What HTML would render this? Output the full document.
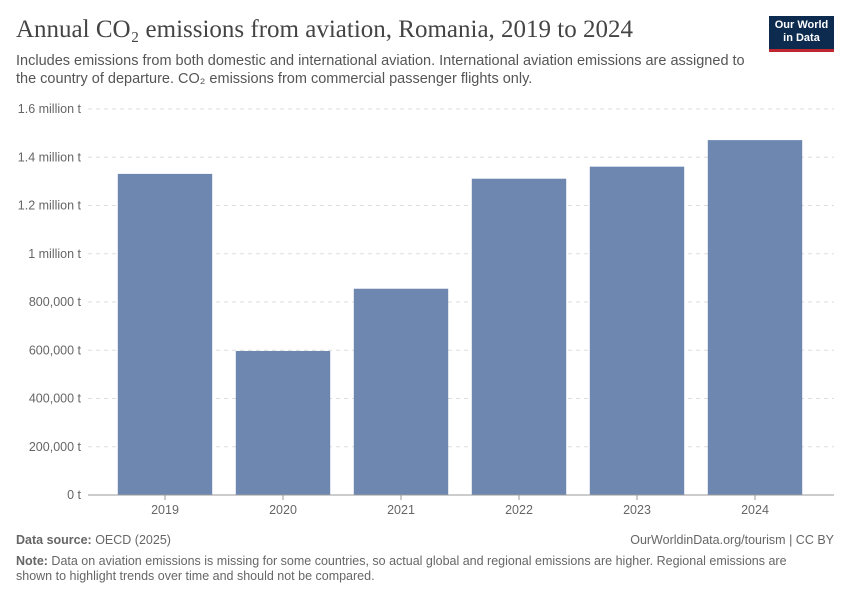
<!DOCTYPE html>
<html><head><meta charset="utf-8">
<style>
body{margin:0;background:#fff;font-family:"Liberation Sans",sans-serif;}
#wrap{position:relative;width:850px;height:600px;overflow:hidden;}
.title{position:absolute;left:16px;top:16px;font-family:"Liberation Serif",serif;font-size:25px;color:#444;}
.sub{position:absolute;left:16px;top:52px;width:740px;font-size:14.5px;line-height:18px;color:#555;}
.logo{position:absolute;left:769px;top:16px;width:65px;height:36px;background:#0c2b4f;color:#fff;font-size:11px;line-height:13px;text-align:center;padding-top:3px;box-sizing:border-box;border-bottom:3px solid #c0262f;font-weight:bold;}
.foot{position:absolute;font-size:12.5px;color:#666;}
</style></head><body>
<div id="wrap">
<div class="title">Annual CO₂ emissions from aviation, Romania, 2019 to 2024</div>
<div class="sub">Includes emissions from both domestic and international aviation. International aviation emissions are assigned to the country of departure. CO₂ emissions from commercial passenger flights only.</div>
<div class="logo">Our World<br>in Data</div>
<svg id="chart" width="850" height="600" style="position:absolute;left:0;top:0"></svg>
<div class="foot" style="left:16px;top:533px"><b>Data source:</b> OECD (2025)</div>
<div class="foot" style="right:16px;top:533px">OurWorldinData.org/tourism | CC BY</div>
<div class="foot" style="left:16px;top:554px;width:800px;line-height:15px"><b>Note:</b> Data on aviation emissions is missing for some countries, so actual global and regional emissions are higher. Regional emissions are shown to highlight trends over time and should not be compared.</div>
</div>
<script>
const categories=["2019","2020","2021","2022","2023","2024"];
const values=[1331000,597000,855000,1311000,1361000,1471000];
const tickValues=[0,200000,400000,600000,800000,1000000,1200000,1400000,1600000];
const tickLabels=["0 t","200,000 t","400,000 t","600,000 t","800,000 t","1 million t","1.2 million t","1.4 million t","1.6 million t"];
const NS="http://www.w3.org/2000/svg";
const svg=document.getElementById('chart');
const x0=88,x1=834,bx0=106,bx1=814,y0=495,yTop=109,maxV=1600000;
const y=v=>y0-(v/maxV)*(y0-yTop);
const band=(bx1-bx0)/categories.length;
const xb=i=>bx0+band*i+band*0.1;
function mk(t,a){const e=document.createElementNS(NS,t);for(const k in a)e.setAttribute(k,a[k]);svg.appendChild(e);return e;}
tickValues.forEach((v,i)=>{
 if(v>0){const l=mk('line',{x1:x0,x2:x1,y1:y(v),y2:y(v),stroke:'#ddd','stroke-dasharray':'4,4'});
 
 }
 const t=mk('text',{x:81,y:y(v)+4,'text-anchor':'end','font-size':'12.5',fill:'#666','font-family':'Liberation Sans'});
 t.textContent=tickLabels[i];
 
 
});
categories.forEach((c,i)=>{
 const r=mk('rect',{x:xb(i),y:y(values[i]),width:band*0.8,height:y0-y(values[i]),fill:'#6d87b0'});
 
 
 const tk=mk('line',{x1:xb(i)+band*0.4,x2:xb(i)+band*0.4,y1:y0,y2:y0+5,stroke:'#999'});
 
 
 const t=mk('text',{x:xb(i)+band*0.4,y:y0+19,'text-anchor':'middle','font-size':'12.5',fill:'#666','font-family':'Liberation Sans'});
 t.textContent=c;
 
 
});
const ax=mk('line',{x1:x0,x2:x1,y1:y0,y2:y0,stroke:'#999'});


</script>
</body></html>
